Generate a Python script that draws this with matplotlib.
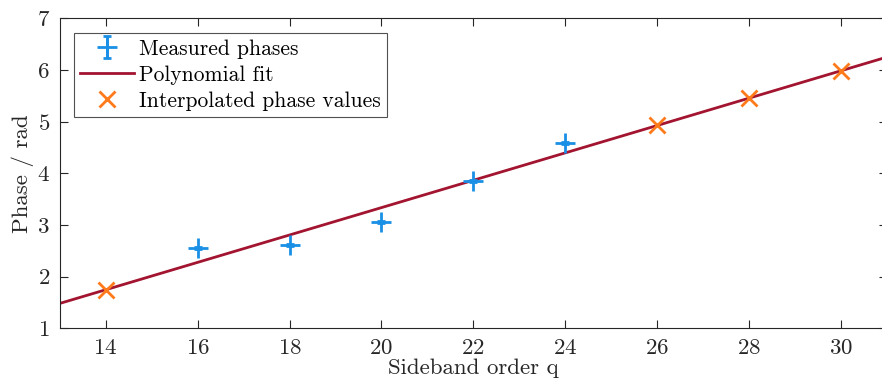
import numpy as np
import matplotlib.pyplot as plt

plt.rcParams['font.family'] = 'serif'
plt.rcParams['font.serif'] = ['cmr10']
plt.rcParams['mathtext.fontset'] = 'cm'
plt.rcParams['axes.formatter.use_mathtext'] = True

# measured sideband phases
q_meas = [16, 18, 20, 22, 24]
phase_meas = [2.56, 2.62, 3.05, 3.86, 4.59]
phase_err = [0.02, 0.02, 0.02, 0.02, 0.02]

q_interp = [14, 26, 28, 30]
phase_interp = [1.75, 4.93, 5.46, 5.99]

xticks = [14, 16, 18, 20, 22, 24, 26, 28, 30]
yticks = [1, 2, 3, 4, 5, 6, 7]

blue = '#1A8FE6'
red = '#A2142F'
orange = '#FF7A1A'
axcol = '#262626'

coef = np.polyfit(q_meas, phase_meas, 1)
q_fit = np.linspace(13, 31, 200)

fig = plt.figure(figsize=(8.82, 3.85), dpi=100)
ax = fig.add_axes([59.7 / 882, 0.1473, 827.3 / 882, 0.805])

h_meas = ax.errorbar(q_meas, phase_meas, yerr=phase_err, fmt='+', color=blue,
                     markersize=14, markeredgewidth=2, elinewidth=2, capsize=3,
                     capthick=2, label='Measured phases', zorder=3)
h_fit, = ax.plot(q_fit, np.polyval(coef, q_fit), color=red, lw=2,
                 label='Polynomial fit', zorder=2)
h_int, = ax.plot(q_interp, phase_interp, 'x', color=orange, markersize=11,
                 markeredgewidth=2, label='Interpolated phase values', zorder=4)

ax.set_xlim(13, 31)
ax.set_ylim(1, 7)
ax.set_xticks(xticks)
ax.set_yticks(yticks)
ax.tick_params(direction='in', length=6, width=0.8, top=True, right=True,
               labelsize=16.5, colors=axcol, pad=7)
for s in ax.spines.values():
    s.set_color(axcol)
    s.set_linewidth(0.8)

ax.set_xlabel('Sideband order q', fontsize=16.5, color=axcol, labelpad=1)
ax.set_ylabel('Phase / rad', fontsize=16.5, color=axcol, labelpad=2)

leg = ax.legend([h_meas, h_fit, h_int],
                ['Measured phases', 'Polynomial fit', 'Interpolated phase values'],
                loc='upper left', fontsize=15.5, frameon=True, fancybox=False,
                edgecolor=axcol, borderpad=0.3, labelspacing=0.3,
                handlelength=2.5, handletextpad=0.2, borderaxespad=0,
                bbox_to_anchor=(0.0173, 0.9535))
leg.get_frame().set_linewidth(0.8)

fig.savefig('out.png', dpi=100)
